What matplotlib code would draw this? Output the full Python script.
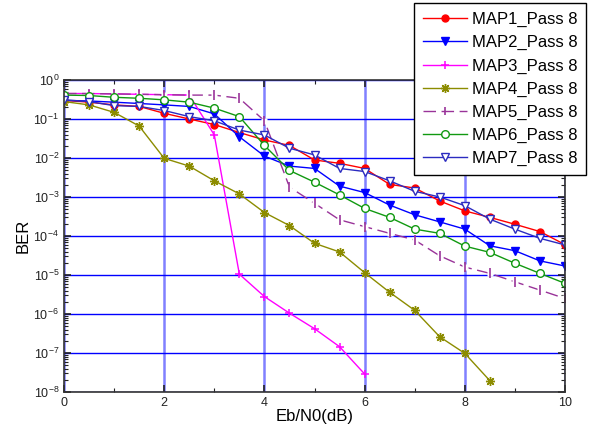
import numpy as np
import matplotlib
matplotlib.use('Agg')
import matplotlib.pyplot as plt
from matplotlib.ticker import LogLocator, MultipleLocator, NullFormatter
from matplotlib.lines import Line2D

plt.rcParams['font.family'] = ['Liberation Sans', 'DejaVu Sans']

# Eb/N0 (dB) points
ebn0 = np.arange(0, 10.01, 0.5)

# BER curves
map1 = [0.30, 0.27, 0.23, 0.21, 0.14, 0.10, 0.072, 0.045, 0.029, 0.021, 0.0089,
        0.0073, 0.0054, 2.1e-3, 1.7e-3, 7.9e-4, 4.4e-4, 3.0e-4, 2.0e-4, 1.3e-4, 6.0e-5]
map2 = [0.30, 0.29, 0.27, 0.25, 0.23, 0.21, 0.135, 0.035, 0.0112, 6.2e-3, 5.4e-3,
        1.9e-3, 1.3e-3, 6.2e-4, 3.5e-4, 2.3e-4, 1.5e-4, 5.6e-5, 4.2e-5, 2.3e-5, 1.7e-5]
map3 = [0.45, 0.45, 0.44, 0.43, 0.42, 0.41, 0.039, 1.05e-5, 2.8e-6, 1.05e-6,
        4.2e-7, 1.45e-7, 2.9e-8]
map4 = [0.28, 0.23, 0.148, 0.066, 0.0098, 0.0062, 2.6e-3, 1.2e-3, 4.0e-4, 1.85e-4,
        6.5e-5, 3.9e-5, 1.15e-5, 3.6e-6, 1.24e-6, 2.6e-7, 9.8e-8, 1.95e-8]
map5 = [0.45, 0.45, 0.44, 0.43, 0.42, 0.41, 0.41, 0.34, 0.09, 1.8e-3, 6.9e-4,
        2.6e-4, 1.74e-4, 1.17e-4, 7.9e-5, 3.1e-5, 1.6e-5, 1.1e-5, 6.7e-6, 4.1e-6, 2.5e-6]
map6 = [0.41, 0.40, 0.36, 0.34, 0.31, 0.27, 0.19, 0.115, 0.021, 4.8e-3, 2.4e-3,
        1.13e-3, 5.1e-4, 3.0e-4, 1.5e-4, 1.17e-4, 5.5e-5, 3.8e-5, 2.0e-5, 1.1e-5, 6.1e-6]
map7 = [0.31, 0.28, 0.22, 0.21, 0.165, 0.115, 0.09, 0.052, 0.039, 0.0178, 0.012,
        0.0054, 0.0045, 2.6e-3, 1.4e-3, 1.0e-3, 6.0e-4, 2.7e-4, 1.5e-4, 8.7e-5, 5.9e-5]

fig = plt.figure(figsize=(5.9, 4.3), dpi=100)
ax = fig.add_axes([64 / 590, 1 - 392 / 430, 501 / 590, 312 / 430])

ax.plot(ebn0, map1, color='#ff0000', lw=1, marker='o', ms=5, label='MAP1_Pass 8')
ax.plot(ebn0, map2, color='#0000ff', lw=1, marker='v', ms=5.5, label='MAP2_Pass 8')
ax.plot(ebn0[:len(map3)], map3, color='#ff00ff', lw=1, marker='+', ms=5.5, mew=1.1,
        label='MAP3_Pass 8')
ax.plot(ebn0[:len(map4)], map4, color='#8c8c00', lw=1, marker=(8, 2, 0), ms=6.5, mew=1,
        label='MAP4_Pass 8')
# MAP5: dashed line, each '|' mark sits in a small gap
ax.plot(ebn0, map5, color='#993399', lw=1, ls=(0, (9, 4)))
ax.plot(ebn0, map5, ls='none', marker='s', ms=4.5, mfc='white', mec='none')
ax.plot(ebn0, map5, ls='none', color='#993399', marker='|', ms=6.5, mew=1.2)
ax.plot(ebn0, map6, color='#119911', lw=1, marker='o', ms=5.5, mfc='white', mew=1,
        label='MAP6_Pass 8')
ax.plot(ebn0, map7, color='#2b2bc0', lw=1, marker='v', ms=6, mfc='white', mew=1,
        label='MAP7_Pass 8')

ax.set_yscale('log')
ax.set_xlim(0, 10)
ax.set_ylim(1e-8, 1)
ax.xaxis.set_major_locator(MultipleLocator(2))
ax.xaxis.set_minor_locator(MultipleLocator(1))
ax.yaxis.set_major_locator(LogLocator(base=10, numticks=20))
ax.yaxis.set_minor_locator(LogLocator(base=10, subs=np.arange(2, 10), numticks=20))
ax.yaxis.set_minor_formatter(NullFormatter())

ax.set_axisbelow(True)
ax.xaxis.grid(True, which='major', color='#8080ff', lw=1.8)
ax.yaxis.grid(True, which='major', color='#0000ff', lw=1)

ax.tick_params(which='both', direction='in', top=True, right=True, labelsize=9,
               colors='#222222')
ax.tick_params(which='major', length=5, width=1.2)
ax.tick_params(which='minor', length=3, width=0.8)
for s in ax.spines.values():
    s.set_color('#333333')
    s.set_linewidth(1.2)

ax.set_xlabel('Eb/N0(dB)', fontsize=12, labelpad=0)
ax.set_ylabel('BER', fontsize=12, labelpad=2)

# legend: MAP5 gets its own handle since it is drawn in three layers
handles, labels = ax.get_legend_handles_labels()
map5_handle = Line2D([], [], color='#993399', lw=1, ls=(0, (9, 4)), marker='|',
                     ms=6, mew=1.2)
handles.insert(4, map5_handle)
labels.insert(4, 'MAP5_Pass 8')
leg = fig.legend(handles, labels, loc='upper left',
                 bbox_to_anchor=(414 / 590, 1 - 3 / 430), borderaxespad=0,
                 fontsize=12, frameon=True, fancybox=False, framealpha=1,
                 edgecolor='black', labelspacing=0.48, handlelength=2.6,
                 borderpad=0.55, handletextpad=0.3)
leg.get_frame().set_linewidth(1)

fig.savefig('out.png', dpi=100)
